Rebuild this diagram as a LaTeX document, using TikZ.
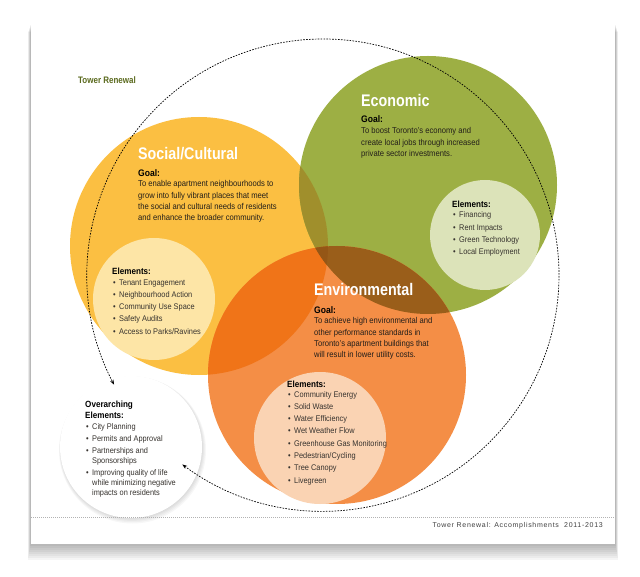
\documentclass[tikz,border=0pt]{standalone}
\usepackage{fontspec}
\setmainfont{Liberation Sans}[FakeStretch=0.9]
\newfontfamily\headfont{Liberation Sans}[FakeStretch=0.85]
\newfontfamily\footfont{Liberation Sans}[LetterSpace=10]
\usetikzlibrary{arrows.meta}

\definecolor{socialc}{HTML}{FBBF42}
\definecolor{econc}{HTML}{9DAF44}
\definecolor{envc}{HTML}{F48E46}
\definecolor{soceconc}{HTML}{A08F2C}
\definecolor{socenvc}{HTML}{F07418}
\definecolor{econenvc}{HTML}{9A5E1A}
\definecolor{triplec}{HTML}{945616}
\definecolor{socelemc}{HTML}{FDE5A6}
\definecolor{econelemc}{HTML}{DCE3B9}
\definecolor{envelemc}{HTML}{FAD3B3}
\definecolor{olivetext}{HTML}{5B6A1E}
\definecolor{goaltext}{HTML}{221E1A}
\definecolor{itemtext}{HTML}{37332F}
\newcommand\bul{\makebox[6pt][l]{\textbullet}}

\begin{document}
\begin{tikzpicture}[x=1pt, y=-1pt,
  disc/.style={circle, inner sep=0pt, minimum size=#1},
  heading/.style={anchor=base west, inner sep=0pt, text=white,
    font=\headfont\bfseries\fontsize{16.8}{18}\selectfont},
  goalhead/.style={anchor=base west, inner sep=0pt, text=black,
    font=\bfseries\fontsize{9.5}{11}\selectfont},
  goaltxt/.style={anchor=base west, inner sep=0pt, align=left, text=goaltext,
    font=\fontsize{8.5}{11.3}\selectfont},
  elemhead/.style={anchor=base west, inner sep=0pt, align=left, text=black,
    font=\bfseries\fontsize{9}{11}\selectfont},
  elemlist/.style={anchor=base west, inner sep=0pt, align=left, text=itemtext,
    font=\fontsize{8.2}{12.3}\selectfont},
  cyclearc/.style={line width=0.7pt, dash pattern=on 1.6pt off 1.3pt,
    {Stealth[length=5pt,width=3.6pt]}-{Stealth[length=5pt,width=3.6pt]}}
]
\useasboundingbox (0,0) rectangle (640,577);

\node[minimum width=584pt, minimum height=520pt, inner sep=0pt] (page) at (323,284) {};
\foreach \s in {2,4,...,16}
  \fill[black, opacity=0.04] ([shift={(-\s/6,\s/2)}]page.north west)
    rectangle ([shift={(\s/6,\s)}]page.south east);
\fill[white] (page.north west) rectangle (page.south east);

\node[disc=258pt, fill=socialc] (social) at (199,246) {};
\node[disc=258pt, fill=econc] (econ) at (428,185) {};
\node[disc=258pt, fill=envc] (env) at (337,375) {};
\begin{scope}
  \clip (social.center) circle (129pt);
  \fill[soceconc] (econ.center) circle (129pt);
  \fill[socenvc] (env.center) circle (129pt);
\end{scope}
\begin{scope}
  \clip (econ.center) circle (129pt);
  \fill[econenvc] (env.center) circle (129pt);
  \clip (social.center) circle (129pt);
  \fill[triplec] (env.center) circle (129pt);
\end{scope}

\node[disc=122pt, fill=socelemc] (socelem) at (154,299) {};
\node[disc=110pt, fill=econelemc] (econelem) at (485,235) {};
\node[disc=132pt, fill=envelemc] (envelem) at (320,438) {};
\foreach \s in {1,...,5}
  \fill[black, opacity=0.03] ([shift={(\s*0.3,\s*0.6)}]131,447) circle[radius=70pt+\s*0.7pt];
\node[disc=142pt, fill=white] (over) at (131,447) {};

\coordinate (sepL) at (31,517);
\coordinate (sepR) at (615,517);
\draw[black!30, line width=0.5pt, dash pattern=on 0.8pt off 1.2pt] (sepL) -- (sepR);

\coordinate (hub) at (323,275);
\draw[cyclearc] ([shift={(233.4:236pt)}]hub) arc[start angle=233.4, end angle=567.7, radius=236pt];

\node[anchor=base west, inner sep=0pt, text=olivetext,
  font=\headfont\bfseries\fontsize{9.4}{11}\selectfont] (title) at (78,84) {Tower Renewal};

\node[heading] (socialhead) at (138,160) {Social/Cultural};
\node[goalhead] (socialgoal) at (138,177) {Goal:};
\node[goaltxt] (socialtxt) at (138,220.9) {To enable apartment neighbourhoods to\\grow into fully vibrant places that meet\\the social and cultural needs of residents\\and enhance the broader community.};

\node[heading] (econhead) at (361,107) {Economic};
\node[goalhead] (econgoal) at (361,123) {Goal:};
\node[goaltxt] (econtxt) at (361,156.6) {To boost Toronto’s economy and\\create local jobs through increased\\private sector investments.};

\node[heading] (envhead) at (314,296) {Environmental};
\node[goalhead] (envgoal) at (314,314) {Goal:};
\node[goaltxt] (envtxt) at (314,357.9) {To achieve high environmental and\\other performance standards in\\Toronto’s apartment buildings that\\will result in lower utility costs.};

\node[elemhead] (socelemhead) at (112,275) {Elements:};
\node[elemlist] (socelemlist) at (113,334.2) {\bul Tenant Engagement\\\bul Neighbourhood Action\\\bul Community Use Space\\\bul Safety Audits\\\bul Access to Parks/Ravines};

\node[elemhead] (econelemhead) at (452,208) {Elements:};
\node[elemlist] (econelemlist) at (453,254.9) {\bul Financing\\\bul Rent Impacts\\\bul Green Technology\\\bul Local Employment};

\node[elemhead] (envelemhead) at (287,387) {Elements:};
\node[elemlist] (envelemlist) at (288,483.1) {\bul Community Energy\\\bul Solid Waste\\\bul Water Efficiency\\\bul Wet Weather Flow\\\bul Greenhouse Gas Monitoring\\\bul Pedestrian/Cycling\\\bul Tree Canopy\\\bul Livegreen};

\node[elemhead] (overhead) at (85,418) {Overarching\\Elements:};
\node[elemlist, font=\fontsize{8.2}{10}\selectfont] (overlist) at (86,495) {\bul City Planning\\[2pt]\bul Permits and Approval\\[2pt]\bul Partnerships and\\\hspace*{6pt}Sponsorships\\[2pt]\bul Improving quality of life\\\hspace*{6pt}while minimizing negative\\\hspace*{6pt}impacts on residents};

\node[anchor=base east, inner sep=0pt, text=black!75,
  font=\footfont\fontsize{7}{8}\selectfont] (footer) at (603,527) {Tower Renewal: Accomplishments\ \ 2011-2013};
\end{tikzpicture}
\end{document}
